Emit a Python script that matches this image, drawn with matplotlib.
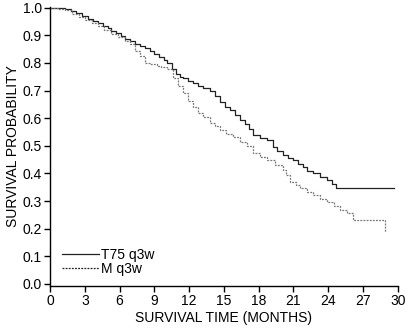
import matplotlib
matplotlib.use("Agg")
import matplotlib.pyplot as plt

plt.rcParams["font.family"] = ["Liberation Sans Narrow", "Liberation Sans", "DejaVu Sans"]

# Kaplan-Meier estimates
t75_time = [0, 0.6, 1.3, 1.8, 2.2, 2.8, 3.3, 3.7, 4.1, 4.6, 5.0, 5.3, 5.7,
            6.1, 6.5, 6.9, 7.3, 7.8, 8.2, 8.6, 9.0, 9.4, 9.8, 10.1, 10.5,
            10.9, 11.2, 11.5, 11.9, 12.3, 12.8, 13.2, 13.8, 14.2, 14.7, 15.1,
            15.5, 16.0, 16.4, 16.8, 17.2, 17.5, 18.1, 18.7, 19.2, 19.6, 20.1,
            20.5, 21.0, 21.4, 21.8, 22.2, 22.7, 23.3, 23.9, 24.3, 24.7, 29.7]
t75_surv = [1.0, 0.999, 0.995, 0.988, 0.980, 0.970, 0.960, 0.953, 0.946,
            0.933, 0.925, 0.917, 0.907, 0.897, 0.888, 0.879, 0.870, 0.862,
            0.856, 0.845, 0.834, 0.822, 0.811, 0.800, 0.780, 0.760, 0.750,
            0.744, 0.735, 0.726, 0.718, 0.711, 0.700, 0.680, 0.657, 0.642,
            0.628, 0.612, 0.595, 0.578, 0.562, 0.540, 0.528, 0.520, 0.495,
            0.480, 0.466, 0.456, 0.448, 0.435, 0.422, 0.410, 0.400, 0.387,
            0.375, 0.360, 0.347, 0.347]

m_time = [0, 0.7, 1.3, 1.9, 2.5, 3.0, 3.6, 4.1, 4.7, 5.3, 5.9, 6.5, 6.9, 7.3,
          7.8, 8.2, 8.6, 9.2, 9.6, 10.1, 10.6, 11.0, 11.5, 11.9, 12.3, 12.8,
          13.2, 13.8, 14.2, 14.7, 15.2, 15.8, 16.4, 17.0, 17.5, 18.1, 18.7,
          19.4, 20.1, 20.4, 20.7, 21.2, 21.6, 22.2, 22.7, 23.3, 23.9, 24.5,
          25.0, 25.6, 26.1, 28.9, 28.9]
m_surv = [1.0, 0.997, 0.993, 0.978, 0.966, 0.955, 0.945, 0.935, 0.920,
          0.906, 0.893, 0.880, 0.870, 0.845, 0.825, 0.800, 0.797, 0.790,
          0.784, 0.778, 0.747, 0.718, 0.690, 0.663, 0.640, 0.620, 0.603,
          0.581, 0.570, 0.556, 0.543, 0.531, 0.513, 0.500, 0.473, 0.458,
          0.448, 0.430, 0.412, 0.395, 0.368, 0.357, 0.347, 0.333, 0.321,
          0.308, 0.296, 0.282, 0.267, 0.258, 0.231, 0.231, 0.188]

x_ticks = list(range(0, 31, 3))
y_ticks = [i / 10 for i in range(11)]

fig = plt.figure(figsize=(4.15, 3.3), dpi=100)
ax = fig.add_axes([0.1205, 0.133, 0.838, 0.846])

ax.plot(t75_time, t75_surv, drawstyle="steps-post", color="#222222", lw=0.9,
        label="T75 q3w")
ax.plot(m_time, m_surv, drawstyle="steps-post", color="#777777", lw=0.9,
        linestyle=(0, (1.5, 1.0)), label="M q3w")

ax.set_xlim(0, 30)
ax.set_ylim(-0.008, 1.003)
ax.set_xticks(x_ticks)
ax.set_yticks(y_ticks)
ax.set_yticklabels([f"{v:.1f}" for v in y_ticks])
ax.tick_params(labelsize=10, length=4, width=1, color="black", pad=2)
for s in ("top", "right"):
    ax.spines[s].set_visible(False)
for s in ("left", "bottom"):
    ax.spines[s].set_linewidth(1.0)

ax.set_xlabel("SURVIVAL TIME (MONTHS)", fontsize=10, labelpad=2)
ax.set_ylabel("SURVIVAL PROBABILITY", fontsize=10, labelpad=2)

leg = ax.legend(loc="lower left", bbox_to_anchor=(0.034, 0.035), frameon=False,
                fontsize=10, handlelength=2.7, handletextpad=0.15,
                labelspacing=0.05, borderpad=0, borderaxespad=0)
leg.get_lines()[1].set_color("#222222")

fig.savefig("out.png", dpi=100)
